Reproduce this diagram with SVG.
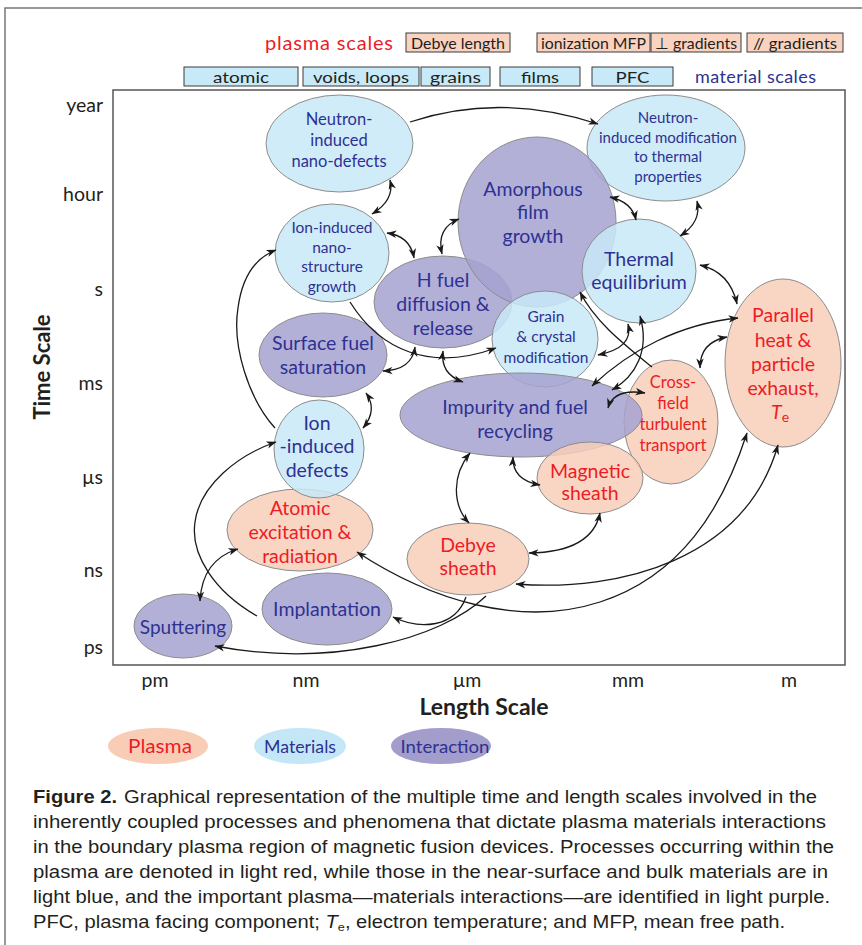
<svg xmlns="http://www.w3.org/2000/svg" width="862" height="945" viewBox="0 0 862 945">
<defs>
<marker id="ah" viewBox="0 0 10 8" refX="9.5" refY="4" markerWidth="11" markerHeight="8" markerUnits="userSpaceOnUse" orient="auto-start-reverse">
<path d="M0,0.3 L10,4 L0,7.7 L2.8,4 z" fill="#1a1a1a"/>
</marker>
<style>
.bl{fill:#c8e9f8;fill-opacity:.85;stroke:#8c8c8c;stroke-width:1}
.pu{fill:#a6a2d1;fill-opacity:.85;stroke:#8c8c8c;stroke-width:1}
.sa{fill:#f8ceb9;fill-opacity:.85;stroke:#8c8c8c;stroke-width:1}
text{font-family:Lato,"Open Sans",sans-serif}
.n{text-anchor:middle;font-size:19.5px}
.s{text-anchor:middle;font-size:15.5px}
.tb{fill:#2e3192}
.tr{fill:#ed1c24}
.ax{font-size:19.5px;fill:#231f20}
.bx{stroke:#3a3a3a;stroke-width:1}
.bt{font-size:16px;fill:#231f20;text-anchor:middle}
#caption text{font-family:"Liberation Sans",Arial,sans-serif;font-size:17.5px;fill:#231f20}
#conn path{fill:none;stroke:#1a1a1a;stroke-width:1.3}
</style>
</defs>
<rect width="862" height="945" fill="#fff"/>
<path d="M5,945 V8 H862" fill="none" stroke="#777" stroke-width="1.5"/>

<g id="top-legend">
<text x="265" y="50" style="font-size:20px" class="tr" textLength="128">plasma scales</text>
<rect x="406" y="33" width="104" height="19" fill="#f9d3c0" class="bx"/>
<text x="458" y="48.5" class="bt" textLength="94" lengthAdjust="spacingAndGlyphs">Debye length</text>
<rect x="537" y="33" width="113" height="19" fill="#f9d3c0" class="bx"/>
<text x="593.5" y="48.5" class="bt" textLength="105" lengthAdjust="spacingAndGlyphs">ionization MFP</text>
<rect x="651" y="33" width="90" height="19" fill="#f9d3c0" class="bx"/>
<text x="696" y="48.5" class="bt" textLength="82" lengthAdjust="spacingAndGlyphs">⊥ gradients</text>
<rect x="747" y="33" width="96" height="19" fill="#f9d3c0" class="bx"/>
<text x="795" y="48.5" class="bt" textLength="84" lengthAdjust="spacingAndGlyphs">// gradients</text>
<rect x="184" y="67" width="114" height="19" fill="#c8eaf8" class="bx"/>
<text x="241" y="82.5" class="bt" textLength="56" lengthAdjust="spacingAndGlyphs">atomic</text>
<rect x="303" y="67" width="116" height="19" fill="#c8eaf8" class="bx"/>
<text x="361" y="82.5" class="bt" textLength="96" lengthAdjust="spacingAndGlyphs">voids, loops</text>
<rect x="421" y="67" width="69" height="19" fill="#c8eaf8" class="bx"/>
<text x="455.5" y="82.5" class="bt" textLength="51" lengthAdjust="spacingAndGlyphs">grains</text>
<rect x="500" y="67" width="80" height="19" fill="#c8eaf8" class="bx"/>
<text x="540" y="82.5" class="bt" textLength="38" lengthAdjust="spacingAndGlyphs">films</text>
<rect x="592" y="67" width="81" height="19" fill="#c8eaf8" class="bx"/>
<text x="632.5" y="82.5" class="bt" textLength="34" lengthAdjust="spacingAndGlyphs">PFC</text>
<text x="695" y="83" style="font-size:18px" class="tb" textLength="121">material scales</text>
</g>

<g id="axes">
<rect x="113" y="90" width="732" height="575" fill="none" stroke="#555" stroke-width="1.5"/>
<g class="ax" text-anchor="end">
<text x="103" y="112">year</text>
<text x="103" y="201">hour</text>
<text x="103" y="296">s</text>
<text x="103" y="390">ms</text>
<text x="103" y="484">µs</text>
<text x="103" y="577">ns</text>
<text x="103" y="654">ps</text>
</g>
<g class="ax" text-anchor="middle">
<text x="155" y="687">pm</text>
<text x="306" y="687">nm</text>
<text x="467" y="687">µm</text>
<text x="628" y="687">mm</text>
<text x="789" y="687">m</text>
</g>
<text transform="translate(50,367) rotate(-90)" text-anchor="middle" style="font-size:22px;font-weight:bold;fill:#231f20">Time Scale</text>
<text x="484" y="715" text-anchor="middle" style="font-size:23px;font-weight:bold;fill:#231f20">Length Scale</text>
</g>

<g id="n-neutron-nano">
<ellipse cx="339.5" cy="143.5" rx="73.5" ry="48.5" class="bl"/>
<text class="n tb" style="font-size:16.5px"><tspan x="339" y="125">Neutron-</tspan><tspan x="339" y="146">induced</tspan><tspan x="339" y="167">nano-defects</tspan></text>
</g>
<g id="n-neutron-thermal">
<ellipse cx="666" cy="148" rx="79" ry="53" class="bl"/>
<text class="s tb" style="font-size:15px"><tspan x="668" y="123">Neutron-</tspan><tspan x="668" y="143">induced modification</tspan><tspan x="668" y="162">to thermal</tspan><tspan x="668" y="182">properties</tspan></text>
</g>
<g id="n-hfuel">
<ellipse cx="443" cy="302" rx="69" ry="46" class="pu"/>
<text class="n tb"><tspan x="443" y="287">H fuel</tspan><tspan x="443" y="311">diffusion &amp;</tspan><tspan x="443" y="335">release</tspan></text>
</g>
<g id="n-amorphous">
<ellipse cx="537" cy="222" rx="79" ry="85" class="pu"/>
<text class="n tb"><tspan x="533" y="196">Amorphous</tspan><tspan x="533" y="219">film</tspan><tspan x="533" y="243">growth</tspan></text>
</g>
<g id="n-thermal">
<ellipse cx="639" cy="271" rx="57" ry="52" class="bl"/>
<text class="n tb"><tspan x="639" y="266">Thermal</tspan><tspan x="639" y="289">equilibrium</tspan></text>
</g>
<g id="n-ion-nano">
<ellipse cx="332" cy="253" rx="57" ry="49" class="bl"/>
<text class="s tb"><tspan x="332" y="233">Ion-induced</tspan><tspan x="332" y="253">nano-</tspan><tspan x="332" y="272">structure</tspan><tspan x="332" y="292">growth</tspan></text>
</g>
<g id="n-surface">
<ellipse cx="323" cy="355" rx="64" ry="42" class="pu"/>
<text class="n tb"><tspan x="323" y="350">Surface fuel</tspan><tspan x="323" y="374">saturation</tspan></text>
</g>
<g id="n-crossfield">
<ellipse cx="671" cy="422" rx="47" ry="62" class="sa"/>
<text class="n tr" style="font-size:16.5px"><tspan x="673" y="388">Cross-</tspan><tspan x="673" y="409">field</tspan><tspan x="673" y="430">turbulent</tspan><tspan x="673" y="451">transport</tspan></text>
</g>
<g id="n-grain">
<ellipse cx="545" cy="339" rx="53" ry="48" class="bl"/>
<text class="s tb"><tspan x="546" y="322">Grain</tspan><tspan x="546" y="342">&amp; crystal</tspan><tspan x="546" y="363">modification</tspan></text>
</g>
<g id="n-impurity">
<ellipse cx="521" cy="415" rx="121" ry="42" class="pu"/>
<text class="n tb"><tspan x="515" y="414">Impurity and fuel</tspan><tspan x="515" y="438">recycling</tspan></text>
</g>
<g id="n-parallel">
<ellipse cx="783" cy="363" rx="58" ry="84" class="sa"/>
<text class="n tr"><tspan x="783" y="322">Parallel</tspan><tspan x="783" y="347">heat &amp;</tspan><tspan x="783" y="371">particle</tspan><tspan x="783" y="395">exhaust,</tspan><tspan x="780" y="419"><tspan font-style="italic">T</tspan><tspan style="font-size:14px" dy="3">e</tspan></tspan></text>
</g>
<g id="n-magnetic">
<ellipse cx="590" cy="478" rx="53" ry="36" class="sa"/>
<text class="n tr"><tspan x="590" y="478">Magnetic</tspan><tspan x="590" y="500">sheath</tspan></text>
</g>
<g id="n-atomic">
<ellipse cx="300" cy="530" rx="73" ry="41" class="sa"/>
<text class="n tr"><tspan x="300" y="515">Atomic</tspan><tspan x="300" y="539">excitation &amp;</tspan><tspan x="300" y="563">radiation</tspan></text>
</g>
<g id="n-ion-defects">
<ellipse cx="319" cy="449" rx="45" ry="49" class="bl"/>
<text class="n tb"><tspan x="317" y="430">Ion</tspan><tspan x="317" y="453">-induced</tspan><tspan x="317" y="477">defects</tspan></text>
</g>
<g id="n-debye">
<ellipse cx="468" cy="559" rx="61" ry="36" class="sa"/>
<text class="n tr"><tspan x="468" y="552">Debye</tspan><tspan x="468" y="575">sheath</tspan></text>
</g>
<g id="n-implantation">
<ellipse cx="327" cy="609" rx="65" ry="36" class="pu"/>
<text class="n tb" x="327" y="616">Implantation</text>
</g>
<g id="n-sputtering">
<ellipse cx="183" cy="626" rx="49" ry="32" class="pu"/>
<text class="n tb" style="font-size:19px" x="183" y="634">Sputtering</text>
</g>

<g id="conn">
<path d="M410,122 Q500,92 598,124" marker-end="url(#ah)"/>
<path d="M390,180 Q395,200 372,214" marker-start="url(#ah)" marker-end="url(#ah)"/>
<path d="M387,233 Q410,236 414,258" marker-start="url(#ah)" marker-end="url(#ah)"/>
<path d="M442,254 Q436,228 459,219" marker-start="url(#ah)" marker-end="url(#ah)"/>
<path d="M610,197 Q632,202 636,220" marker-start="url(#ah)" marker-end="url(#ah)"/>
<path d="M697,201 Q702,222 680,236" marker-start="url(#ah)" marker-end="url(#ah)"/>
<path d="M700,265 Q730,272 737,304" marker-start="url(#ah)" marker-end="url(#ah)"/>
<path d="M350,302 C380,350 430,372 496,348" marker-end="url(#ah)"/>
<path d="M383,371 Q412,370 415,347" marker-start="url(#ah)" marker-end="url(#ah)"/>
<path d="M443,351 Q440,374 463,382" marker-start="url(#ah)" marker-end="url(#ah)"/>
<path d="M366,393 Q378,410 363,428" marker-start="url(#ah)" marker-end="url(#ah)"/>
<path d="M275,428 C248,398 232,345 238,308 C242,278 255,258 276,250" marker-end="url(#ah)"/>
<path d="M257,616 C215,592 190,555 195,522 C200,485 238,455 276,442" marker-end="url(#ah)"/>
<path d="M200,601 Q202,560 238,549" marker-start="url(#ah)" marker-end="url(#ah)"/>
<path d="M486,596 C440,640 330,668 215,646" marker-end="url(#ah)"/>
<path d="M466,597 C455,628 420,630 393,617" marker-end="url(#ah)"/>
<path d="M470,453 C452,475 452,505 469,523" marker-start="url(#ah)" marker-end="url(#ah)"/>
<path d="M513,457 Q512,480 540,485" marker-start="url(#ah)" marker-end="url(#ah)"/>
<path d="M600,513 Q592,552 529,553" marker-start="url(#ah)" marker-end="url(#ah)"/>
<path d="M516,584 C620,592 745,560 778,445" marker-start="url(#ah)" marker-end="url(#ah)"/>
<path d="M357,552 C430,600 520,628 600,602 C680,576 722,510 747,433" marker-start="url(#ah)" marker-end="url(#ah)"/>
<path d="M598,355 C622,350 632,340 628,324" marker-start="url(#ah)" marker-end="url(#ah)"/>
<path d="M640,316 C650,350 636,376 612,390" marker-start="url(#ah)" marker-end="url(#ah)"/>
<path d="M738,318 C680,324 630,350 592,386" marker-start="url(#ah)" marker-end="url(#ah)"/>
<path d="M700,368 Q700,342 727,337" marker-start="url(#ah)" marker-end="url(#ah)"/>
<path d="M652,367 C625,345 595,322 580,292" marker-end="url(#ah)"/>
<path d="M608,408 Q614,388 645,393" marker-start="url(#ah)" marker-end="url(#ah)"/>
</g>

<g id="legend">
<ellipse cx="158" cy="746" rx="50" ry="18" fill="#f9ccb6"/>
<text x="160" y="753" text-anchor="middle" class="tr" style="font-size:19px" textLength="64" lengthAdjust="spacingAndGlyphs">Plasma</text>
<ellipse cx="300" cy="746" rx="46" ry="18" fill="#c4e7f8"/>
<text x="300" y="752.5" text-anchor="middle" class="tb" style="font-size:18px" textLength="72" lengthAdjust="spacingAndGlyphs">Materials</text>
<ellipse cx="441" cy="746" rx="50" ry="18" fill="#a29dcb"/>
<text x="445" y="752.5" text-anchor="middle" class="tb" style="font-size:18px" textLength="89" lengthAdjust="spacingAndGlyphs">Interaction</text>
</g>

<g id="caption">
<text x="33" y="803" textLength="784" lengthAdjust="spacingAndGlyphs"><tspan font-weight="bold">Figure 2.</tspan><tspan dx="6">Graphical representation of the multiple time and length scales involved in the</tspan></text>
<text x="33" y="828" textLength="793" lengthAdjust="spacingAndGlyphs">inherently coupled processes and phenomena that dictate plasma materials interactions</text>
<text x="33" y="853" textLength="801" lengthAdjust="spacingAndGlyphs">in the boundary plasma region of magnetic fusion devices. Processes occurring within the</text>
<text x="33" y="878" textLength="795" lengthAdjust="spacingAndGlyphs">plasma are denoted in light red, while those in the near-surface and bulk materials are in</text>
<text x="33" y="903" textLength="797" lengthAdjust="spacingAndGlyphs">light blue, and the important plasma—materials interactions—are identified in light purple.</text>
<text x="33" y="928" textLength="752" lengthAdjust="spacingAndGlyphs">PFC, plasma facing component; <tspan font-style="italic">T</tspan><tspan style="font-size:11px" dy="3">e</tspan><tspan dy="-3">, electron temperature; and MFP, mean free path.</tspan></text>
</g>
</svg>
